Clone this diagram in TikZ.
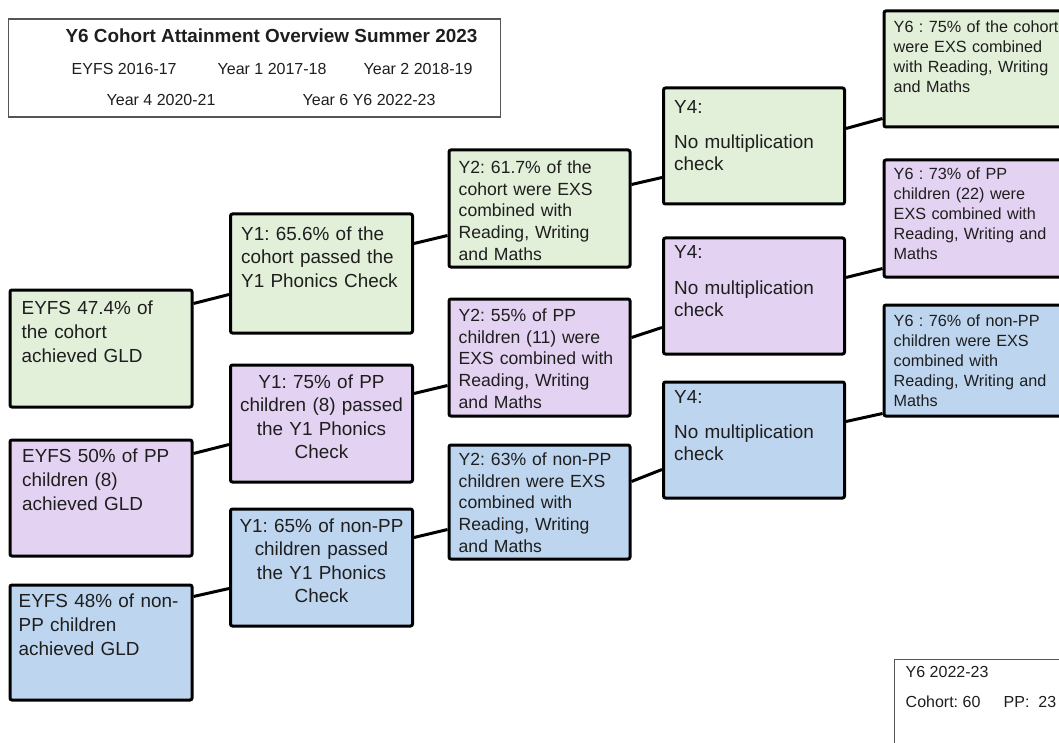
\documentclass[tikz,border=0pt]{standalone}
\usepackage{fontspec}
\setmainfont{Liberation Sans}
\usetikzlibrary{calc}
\frenchspacing
\definecolor{gfill}{HTML}{E2EFD9}
\definecolor{pfill}{HTML}{E3D2F1}
\definecolor{bfill}{HTML}{BDD5EE}
\definecolor{txt}{HTML}{1E1E1E}
\definecolor{frame}{HTML}{555555}
\newcommand\fEYFS{\fontsize{18.9}{24}\selectfont}
\newcommand\fYone{\fontsize{18.9}{23.3}\selectfont}
\newcommand\fYtwo{\fontsize{17.6}{21.7}\selectfont}
\newcommand\fYfour{\fontsize{18.9}{22.5}\selectfont}
\newcommand\fYsix{\fontsize{16.2}{20}\selectfont}
\newcommand\fSmall{\fontsize{16}{19}\selectfont}
\tikzset{
  stagebox/.style={draw=black, line width=3pt, rounded corners=2pt, anchor=north west, inner sep=0pt},
  boxtext/.style={anchor=base west, inner sep=0pt, text width=200pt, align=left, text=txt},
  ctext/.style={anchor=base, inner sep=0pt, text width=185pt, align=center, text=txt},
  conn/.style={draw=black, line width=3pt},
  framebox/.style={draw=frame, line width=1.2pt, anchor=north west, inner sep=0pt},
  plain/.style={anchor=base west, inner sep=0pt, text=txt}
}
\newcommand\stage[6]{\node[stagebox, fill=#6, minimum width=#4pt, minimum height=#5pt] (#1) at (#2,#3) {};}
\begin{document}
\frenchspacing
\begin{tikzpicture}[x=1pt,y=-1pt]
\useasboundingbox (0,0) rectangle (1059,743);
\clip (0,0) rectangle (1059,743);
% title box
\node[framebox, minimum width=492pt, minimum height=98pt] (titlebox) at (7.5,18.5) {};
\node[anchor=base, inner sep=0pt, text=txt, font=\fontsize{18.9}{22}\selectfont\bfseries] (title) at ($(titlebox.north west)+(264,24)$) {Y6 Cohort Attainment Overview Summer 2023};
\node[plain, font=\fSmall] (t1) at ($(titlebox.north west)+(64,56)$) {EYFS 2016-17};
\node[plain, font=\fSmall] (t2) at ($(titlebox.north west)+(210,56)$) {Year 1 2017-18};
\node[plain, font=\fSmall] (t3) at ($(titlebox.north west)+(356,56)$) {Year 2 2018-19};
\node[plain, font=\fSmall] (t4) at ($(titlebox.north west)+(99,87)$) {Year 4 2020-21};
\node[plain, font=\fSmall] (t5) at ($(titlebox.north west)+(295,87)$) {Year 6 Y6 2022-23};
% stage boxes
\stage{eg}{8.5}{288.5}{182}{117}{gfill}
\stage{ep}{8.5}{438.5}{182}{116}{pfill}
\stage{eb}{8.5}{583.5}{182}{115}{bfill}
\stage{ag}{229}{212.5}{182}{119}{gfill}
\stage{ap}{229}{363.5}{182}{117}{pfill}
\stage{ab}{229}{507.5}{182}{117}{bfill}
\stage{bg}{447.5}{148.5}{181}{117}{gfill}
\stage{bp}{447.5}{297.5}{181}{117}{pfill}
\stage{bb}{447.5}{443.5}{181}{114}{bfill}
\stage{cg}{662}{86.5}{181}{116}{gfill}
\stage{cp}{662}{236.5}{181}{116}{pfill}
\stage{cb}{662}{380.5}{181}{116}{bfill}
\stage{dg}{882.5}{9.5}{200}{116}{gfill}
\stage{dp}{882.5}{158.5}{200}{117}{pfill}
\stage{db}{882.5}{303.5}{200}{111}{bfill}
% texts
\node[boxtext, font=\fEYFS] (egt) at ($(eg.north west)+(13,26)$) {EYFS 47.4\% of\\the cohort\\achieved GLD};
\node[boxtext, font=\fEYFS] (ept) at ($(ep.north west)+(13.5,24)$) {EYFS 50\% of PP\\children (8)\\achieved GLD};
\node[boxtext, font=\fEYFS] (ebt) at ($(eb.north west)+(10,24)$) {EYFS 48\% of non-\\PP children\\achieved GLD};
\node[boxtext, font=\fYone] (agt) at ($(ag.north west)+(12,28)$) {Y1: 65.6\% of the\\cohort passed the\\Y1 Phonics Check};
\node[ctext, font=\fYone] (apt) at ($(ap.north)+(0,25)$) {Y1: 75\% of PP\\children (8) passed\\the Y1 Phonics\\Check};
\node[ctext, font=\fYone] (abt) at ($(ab.north)+(0,25)$) {Y1: 65\% of non-PP\\children passed\\the Y1 Phonics\\Check};
\node[boxtext, font=\fYtwo] (bgt) at ($(bg.north west)+(11,25)$) {Y2: 61.7\% of the\\cohort were EXS\\combined with\\Reading, Writing\\and Maths};
\node[boxtext, font=\fYtwo] (bpt) at ($(bp.north west)+(11,24)$) {Y2: 55\% of PP\\children (11) were\\EXS combined with\\Reading, Writing\\and Maths};
\node[boxtext, font=\fYtwo] (bbt) at ($(bb.north west)+(11,22)$) {Y2: 63\% of non-PP\\children were EXS\\combined with\\Reading, Writing\\and Maths};
\node[boxtext, font=\fYfour] (cgt) at ($(cg.north west)+(12,27)$) {Y4:\\[12.5pt]No multiplication\\check};
\node[boxtext, font=\fYfour] (cpt) at ($(cp.north west)+(12,22)$) {Y4:\\[13pt]No multiplication\\check};
\node[boxtext, font=\fYfour] (cbt) at ($(cb.north west)+(12,23)$) {Y4:\\[12pt]No multiplication\\check};
\node[boxtext, font=\fYsix] (dgt) at ($(dg.north west)+(11,23)$) {Y6 : 75\% of the cohort\\were EXS combined\\with Reading, Writing\\and Maths};
\node[boxtext, font=\fYsix] (dpt) at ($(dp.north west)+(11,21)$) {Y6 : 73\% of PP\\children (22) were\\EXS combined with\\Reading, Writing and\\Maths};
\node[boxtext, font=\fYsix] (dbt) at ($(db.north west)+(11,23)$) {Y6 : 76\% of non-PP\\children were EXS\\combined with\\Reading, Writing and\\Maths};
% connectors
\draw[conn] ($(eg.north east)+(0,15)$) -- ($(ag.north west)+(0,82)$);
\draw[conn] ($(ep.north east)+(0,15)$) -- ($(ap.north west)+(0,81)$);
\draw[conn] ($(eb.north east)+(0,13)$) -- ($(ab.north west)+(0,81)$);
\draw[conn] ($(ag.north east)+(0,31)$) -- ($(bg.north west)+(0,87)$);
\draw[conn] ($(ap.north east)+(0,30)$) -- ($(bp.north west)+(0,88)$);
\draw[conn] ($(ab.north east)+(0,30)$) -- ($(bb.north west)+(0,86)$);
\draw[conn] ($(bg.north east)+(0,36)$) -- ($(cg.north west)+(0,91)$);
\draw[conn] ($(bp.north east)+(0,40)$) -- ($(cp.north west)+(0,91)$);
\draw[conn] ($(bb.north east)+(0,38)$) -- ($(cb.north west)+(0,89)$);
\draw[conn] ($(cg.north east)+(0,42)$) -- ($(dg.north west)+(0,109)$);
\draw[conn] ($(cp.north east)+(0,41)$) -- ($(dp.north west)+(0,110)$);
\draw[conn] ($(cb.north east)+(0,41)$) -- ($(db.north west)+(0,110)$);
% info box
\node[framebox, minimum width=200pt, minimum height=120pt] (infobox) at (893.5,658.5) {};
\node[plain, font=\fSmall] (i1) at ($(infobox.north west)+(12,19)$) {Y6 2022-23};
\node[plain, font=\fSmall] (i2) at ($(infobox.north west)+(12,49)$) {Cohort: 60};
\node[plain, font=\fSmall] (i3) at ($(infobox.north west)+(110,49)$) {PP:\ \ 23};
\end{tikzpicture}
\end{document}
